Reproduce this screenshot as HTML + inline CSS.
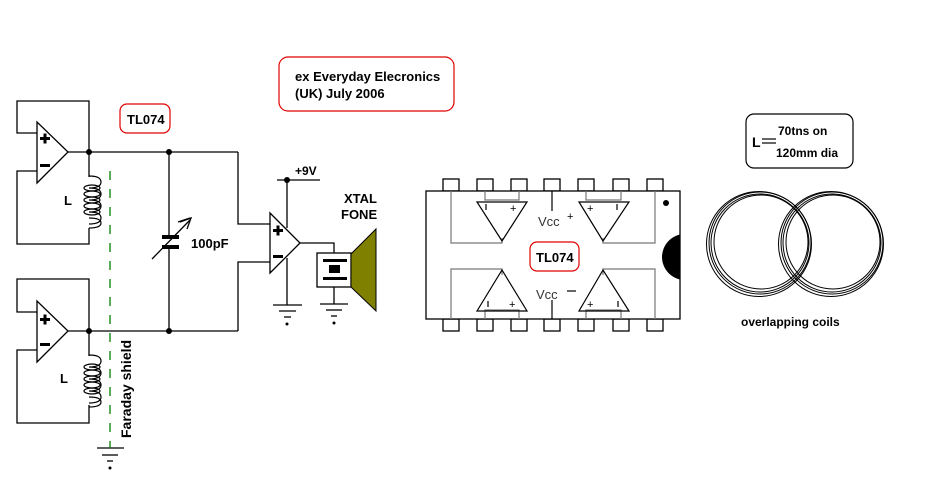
<!DOCTYPE html>
<html><head><style>
html,body{margin:0;padding:0;background:#fff;}
svg{display:block;}
text{font-family:"Liberation Sans",sans-serif;font-weight:bold;fill:#000;}
</style></head><body>
<svg width="934" height="487" viewBox="0 0 934 487" xmlns="http://www.w3.org/2000/svg">
<defs>
<g id="coil" fill="none" stroke="#000" stroke-width="1.2">
<path d="M0,0 q12,0 12,6 q0,6 -12,6 q12,0 12,6 q0,6 -12,6 q12,0 12,6 q0,6 -12,6 q12,0 12,6 q0,6 -12,6"/>
<ellipse cx="3" cy="12" rx="8" ry="3"/>
<ellipse cx="3" cy="18" rx="8" ry="3"/>
<ellipse cx="3" cy="24" rx="8" ry="3"/>
<ellipse cx="3" cy="30" rx="8" ry="3"/>
<ellipse cx="3" cy="36" rx="8" ry="3"/>
<path d="M0,42 q12,0 12,5 q0,5 -12,5"/>
</g>
</defs>
<g fill="none" stroke="#000" stroke-width="1.3">
<polygon points="37,122 37,183 68,152" fill="#fff"/>
<polyline points="37,133 17,133 17,101 89,101 89,152"/>
<polyline points="37,171 17,171 17,244 89,244 89,228"/>
<line x1="68" y1="152" x2="238" y2="152"/>
<line x1="89" y1="152" x2="89" y2="177"/>
<polygon points="37,301 37,362 68,331" fill="#fff"/>
<polyline points="37,312 17,312 17,279 89,279 89,331"/>
<polyline points="37,350 17,350 17,423 89,423 89,405"/>
<line x1="68" y1="331" x2="238" y2="331"/>
<line x1="89" y1="331" x2="89" y2="356"/>
<line x1="169" y1="152" x2="169" y2="236"/>
<line x1="169" y1="249" x2="169" y2="331"/>
<line x1="152" y1="259" x2="190" y2="220"/>
<polyline points="180,222 191,218 187,229"/>
<line x1="178" y1="222" x2="190" y2="218"/>
<polyline points="238,152 238,224 270,224"/>
<polyline points="238,331 238,262 270,262"/>
<polygon points="270,213 270,273 300,243" fill="#fff"/>
<line x1="287" y1="180" x2="287" y2="228"/>
<line x1="287" y1="258" x2="287" y2="305"/>
<line x1="277" y1="180" x2="320" y2="180"/>
<line x1="273" y1="305" x2="302" y2="305"/>
<line x1="279" y1="311" x2="296" y2="311"/>
<line x1="284" y1="317" x2="291" y2="317"/>
<polyline points="300,243 334,243 334,253"/>
<rect x="317" y="253" width="34" height="34" fill="#fff"/>
<line x1="334" y1="287" x2="334" y2="304"/>
<line x1="320" y1="304" x2="348" y2="304"/>
<line x1="326" y1="310" x2="342" y2="310"/>
<line x1="331" y1="316" x2="337" y2="316"/>
<line x1="97" y1="448" x2="124" y2="448"/>
<line x1="102" y1="455" x2="118" y2="455"/>
<line x1="107" y1="461" x2="113" y2="461"/>
</g>
<use href="#coil" x="89" y="176"/>
<use href="#coil" x="89" y="355"/>
<line x1="110" y1="171" x2="110" y2="448" stroke="#008000" stroke-width="1.3" stroke-dasharray="9,9"/>
<g fill="#000">
<circle cx="89" cy="152" r="3"/><circle cx="169" cy="152" r="3"/>
<circle cx="89" cy="331" r="3"/><circle cx="169" cy="331" r="3"/>
<circle cx="287" cy="180" r="3"/>
<circle cx="287" cy="324" r="1.5"/><circle cx="334" cy="323" r="1.5"/><circle cx="110" cy="468" r="1.5"/>
<rect x="162" y="235" width="17" height="4"/><rect x="162" y="245" width="17" height="4"/>
<rect x="323" y="259" width="24" height="3"/><rect x="323" y="277" width="24" height="3"/>
<rect x="329" y="265" width="11" height="8"/>
<rect x="40" y="137" width="10" height="3"/><rect x="43.5" y="133.5" width="3" height="10"/>
<rect x="40" y="164" width="10" height="3"/>
<rect x="40" y="318" width="10" height="3"/><rect x="43.5" y="314.5" width="3" height="10"/>
<rect x="40" y="343" width="10" height="3"/>
<rect x="273" y="229" width="10" height="3"/><rect x="276.5" y="225.5" width="3" height="10"/>
<rect x="273" y="255" width="10" height="3"/>
</g>
<polygon points="351,254 376,229 376,311 351,287" fill="#808000" stroke="#000" stroke-width="1"/>
<text x="64" y="205" font-size="13">L</text>
<text x="60" y="383" font-size="13">L</text>
<text x="191" y="248" font-size="13">100pF</text>
<text x="295" y="175" font-size="12">+9V</text>
<text x="344" y="203" font-size="13">XTAL</text>
<text x="341" y="219" font-size="13">FONE</text>
<text transform="translate(131,438) rotate(-90)" font-size="14">Faraday shield</text>
<rect x="120" y="104" width="50" height="29" rx="7" fill="none" stroke="#e00000" stroke-width="1.2"/>
<text x="127" y="124" font-size="13">TL074</text>
<rect x="279" y="57" width="175" height="54" rx="9" fill="none" stroke="#e00000" stroke-width="1.2"/>
<text x="295" y="81" font-size="13">ex Everyday Elecronics</text>
<text x="295" y="98" font-size="13">(UK) July 2006</text>
<g fill="#fff" stroke="#000" stroke-width="1.3">
<rect x="443" y="179" width="16" height="12"/><rect x="477" y="179" width="16" height="12"/><rect x="511" y="179" width="16" height="12"/><rect x="544" y="179" width="16" height="12"/><rect x="578" y="179" width="16" height="12"/><rect x="613" y="179" width="16" height="12"/><rect x="647" y="179" width="16" height="12"/>
<rect x="443" y="319" width="16" height="12"/><rect x="477" y="319" width="16" height="12"/><rect x="511" y="319" width="16" height="12"/><rect x="544" y="319" width="16" height="12"/><rect x="578" y="319" width="16" height="12"/><rect x="613" y="319" width="16" height="12"/><rect x="647" y="319" width="16" height="12"/>
<rect x="426" y="191" width="254" height="128"/>
</g>
<clipPath id="cb"><rect x="426" y="191" width="254" height="128"/></clipPath>
<circle cx="685" cy="257" r="23" fill="#000" clip-path="url(#cb)"/>
<circle cx="666" cy="203" r="3" fill="#000"/>
<g fill="none" stroke="#777" stroke-width="1.2">
<polyline points="451,191 451,243 502,243 502,238"/>
<polyline points="451,319 451,269 502,269 502,275"/>
<polyline points="485,191 485,200 519,200 519,191"/>
<polyline points="485,319 485,310 519,310 519,319"/>
<polyline points="655,191 655,243 603,243 603,238"/>
<polyline points="655,319 655,269 603,269 603,275"/>
<polyline points="586,191 586,200 621,200 621,191"/>
<polyline points="586,319 586,310 621,310 621,319"/>
</g>
<g fill="none" stroke="#000" stroke-width="1.2">
<polygon points="477,202 527,202 502,241"/>
<polygon points="579,202 629,202 603,241"/>
<polygon points="477,311 527,311 502,270"/>
<polygon points="579,311 629,311 603,270"/>
<line x1="552" y1="191" x2="552" y2="211"/>
<line x1="552" y1="300" x2="552" y2="319"/>
<line x1="486" y1="204" x2="486" y2="210"/><line x1="617" y1="204" x2="617" y2="210"/>
<line x1="488" y1="301" x2="488" y2="307"/><line x1="618" y1="301" x2="618" y2="307"/>
<line x1="567" y1="291" x2="576" y2="291"/>
</g>
<text x="510" y="212" font-size="11" style="font-weight:normal">+</text>
<text x="587" y="212" font-size="11" style="font-weight:normal">+</text>
<text x="509" y="308" font-size="11" style="font-weight:normal">+</text>
<text x="587" y="308" font-size="11" style="font-weight:normal">+</text>
<text x="538" y="226" font-size="13" style="font-weight:normal;fill:#333">Vcc</text>
<text x="567" y="220" font-size="11" style="font-weight:normal">+</text>
<text x="536" y="299" font-size="13" style="font-weight:normal;fill:#333">Vcc</text>
<rect x="530" y="242" width="49" height="29" rx="7" fill="#fff" stroke="#e00000" stroke-width="1.2"/>
<text x="536" y="262" font-size="13">TL074</text>
<g fill="none" stroke="#000" stroke-width="1">
<circle cx="760" cy="243" r="51"/><circle cx="760" cy="243" r="49"/><circle cx="761" cy="242" r="47"/><circle cx="759" cy="244" r="52.5"/>
<circle cx="832" cy="243" r="51"/><circle cx="832" cy="243" r="49"/><circle cx="833" cy="242" r="47"/><circle cx="831" cy="244" r="52.5"/>
</g>
<rect x="746" y="114" width="107" height="54" rx="8" fill="none" stroke="#000" stroke-width="1.2"/>
<text x="752" y="147" font-size="14">L</text>
<line x1="762" y1="139" x2="776" y2="139" stroke="#000" stroke-width="1.2"/>
<line x1="762" y1="143" x2="776" y2="143" stroke="#000" stroke-width="1.2"/>
<text x="778" y="135" font-size="12">70tns on</text>
<text x="776" y="157" font-size="12">120mm dia</text>
<text x="741" y="326" font-size="12">overlapping coils</text>
</svg>
</body></html>
